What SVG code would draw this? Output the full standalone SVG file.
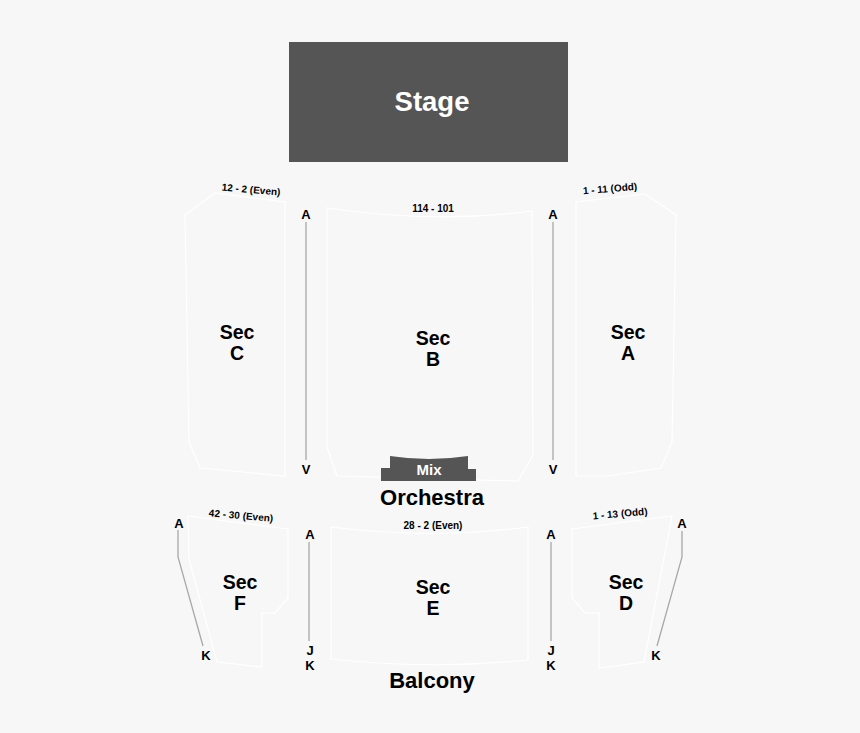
<svg xmlns="http://www.w3.org/2000/svg" width="860" height="733" viewBox="0 0 860 733">
<style>
.sec{fill:#f7f7f7;stroke:#ffffff;stroke-width:1.2}
.t{font-family:"Liberation Sans",Arial,sans-serif;font-weight:bold;fill:#000;text-anchor:middle}
.big{font-size:19.5px}
.sm{font-size:10px}
.row{font-size:13px}
.aisle{stroke:#a8a8a8;stroke-width:1.3;fill:none}
</style>
<rect width="860" height="733" fill="#f7f7f7"/>
<g id="stage">
<rect x="289" y="42" width="279" height="120" fill="#555555"/>
<text class="t" x="432" y="111" style="font-size:27.5px;fill:#ffffff">Stage</text>
</g>
<g id="secC">
<polygon class="sec" points="185,215 215,193 285,202 285,476 200,468 189,442"/>
<text class="t sm" x="251" y="193" transform="rotate(5 251 190)">12 - 2 (Even)</text>
<text class="t big" x="237" y="339">Sec</text>
<text class="t big" x="237" y="360">C</text>
</g>
<g id="secB">
<path class="sec" d="M327,208 Q433,224 532,211 L533,455 L518,481 L337,476 L327,447 Z"/>
<text class="t sm" x="433" y="212">114 - 101</text>
<text class="t big" x="433" y="345">Sec</text>
<text class="t big" x="433" y="366">B</text>
</g>
<g id="mix">
<path d="M390,456 Q429,462 468,456 L468,469 L476,469 L476,481 L381,481 L381,468 L390,468 Z" fill="#555555"/>
<text class="t" x="429" y="475" style="font-size:15px;fill:#ffffff">Mix</text>
</g>
<g id="secA">
<polygon class="sec" points="576,202 645,194 676,215 672,442 661,468 607,476 576,476"/>
<text class="t sm" x="610" y="192" transform="rotate(-5 610 189)">1 - 11 (Odd)</text>
<text class="t big" x="628" y="339">Sec</text>
<text class="t big" x="628" y="360">A</text>
</g>
<g id="orchestra">
<text class="t" x="432" y="505" style="font-size:22px">Orchestra</text>
</g>
<g id="secF">
<polygon class="sec" points="188,516 288,529 288,598 275,613 262,613 262,667 217,662 189,559"/>
<text class="t sm" x="241" y="519" transform="rotate(5 241 516)">42 - 30 (Even)</text>
<text class="t big" x="240" y="589">Sec</text>
<text class="t big" x="240" y="610">F</text>
</g>
<g id="secE">
<path class="sec" d="M331,527 Q433,540 528,527 L528,660 Q433,670 331,659 Z"/>
<text class="t sm" x="433" y="529">28 - 2 (Even)</text>
<text class="t big" x="433" y="594">Sec</text>
<text class="t big" x="433" y="615">E</text>
</g>
<g id="secD">
<polygon class="sec" points="572,529 672,516 644,662 599,668 599,613 585,613 572,598"/>
<text class="t sm" x="620" y="517" transform="rotate(-5 620 513)">1 - 13 (Odd)</text>
<text class="t big" x="626" y="589">Sec</text>
<text class="t big" x="626" y="610">D</text>
</g>
<g id="balcony">
<text class="t" x="432" y="688" style="font-size:22px">Balcony</text>
</g>
<g id="connectors">
<line class="aisle" x1="306" y1="222" x2="306" y2="460"/>
<line class="aisle" x1="553" y1="222" x2="553" y2="460"/>
<line class="aisle" x1="309" y1="542" x2="309" y2="641"/>
<line class="aisle" x1="551" y1="542" x2="551" y2="641"/>
<polyline class="aisle" points="178,530 178,557 203,646"/>
<polyline class="aisle" points="682,531 682,557 657,646"/>
</g>
<g id="row-labels">
<text class="t row" x="306" y="219">A</text>
<text class="t row" x="306" y="474">V</text>
<text class="t row" x="553" y="219">A</text>
<text class="t row" x="553" y="474">V</text>
<text class="t row" x="179" y="528">A</text>
<text class="t row" x="206" y="660">K</text>
<text class="t row" x="310" y="539">A</text>
<text class="t row" x="310" y="655">J</text>
<text class="t row" x="310" y="670">K</text>
<text class="t row" x="551" y="539">A</text>
<text class="t row" x="551" y="655">J</text>
<text class="t row" x="551" y="670">K</text>
<text class="t row" x="682" y="528">A</text>
<text class="t row" x="656" y="660">K</text>
</g>
</svg>
